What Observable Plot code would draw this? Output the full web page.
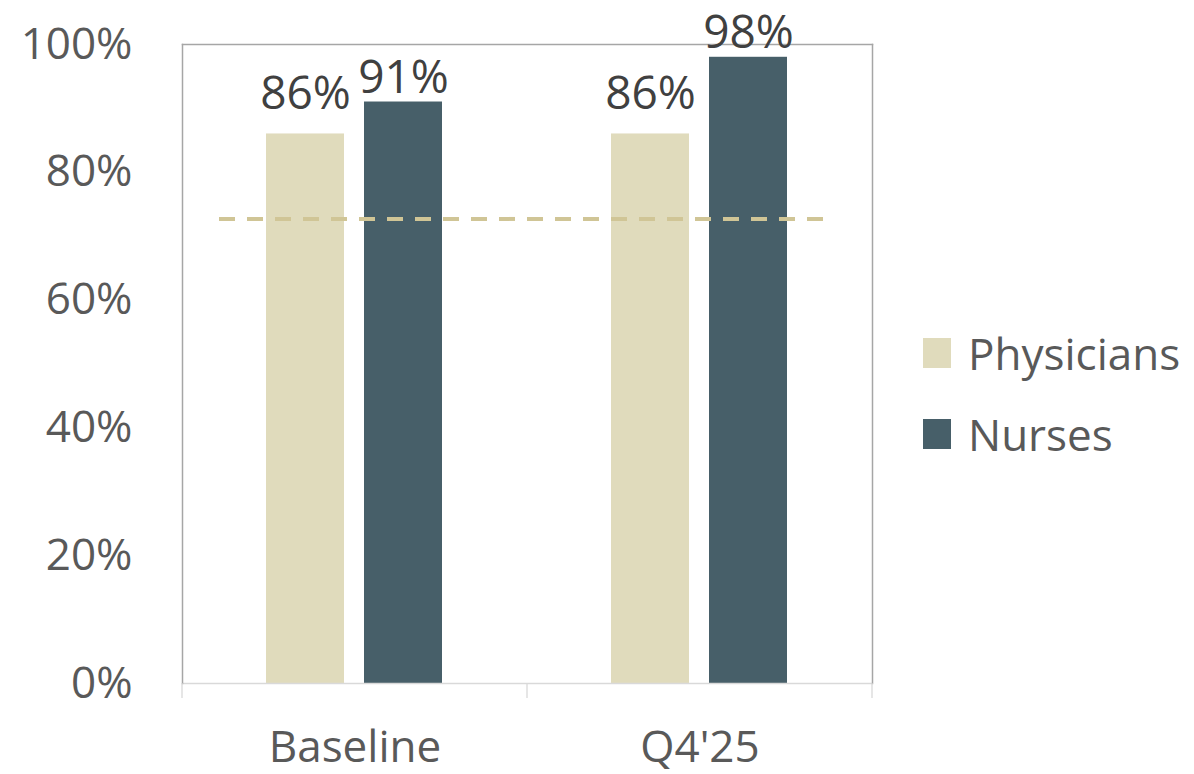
<!DOCTYPE html>
<html>
<head>
<meta charset="utf-8">
<script src="https://cdn.jsdelivr.net/npm/d3@7"></script>
<script src="https://cdn.jsdelivr.net/npm/@observablehq/plot@0.6"></script>
<style>
  html, body { margin: 0; padding: 0; background: #fff; }
  #wrap { position: relative; width: 1194px; height: 774px; overflow: hidden; }
  #wrap svg { display: block; overflow: visible; }
  #legend { position: absolute; left: 923px; top: 333px; font-family: "Open Sans", sans-serif; font-size: 44px; color: #595959; }
  #legend .item { display: flex; align-items: center; height: 40px; margin-bottom: 41px; white-space: nowrap; }
  #legend .sw { width: 28px; height: 30px; margin-right: 17px; flex: none; }
</style>
</head>
<body>
<div id="wrap"><div id="legend"></div></div>
<script>
// ---- data ----
const groups = ["Baseline", "Q4'25"];
const seriesNames = ["Physicians", "Nurses"];
const physicians = [0.86, 0.86];
const nurses = [0.91, 0.98];
const target = 0.727;
const yTicks = [0, 0.2, 0.4, 0.6, 0.8, 1.0];
const colors = ["#e0dbbc", "#475f69"];

const rows = [];
groups.forEach((g, i) => {
  rows.push({group: g, series: "Physicians", value: physicians[i]});
  rows.push({group: g, series: "Nurses", value: nurses[i]});
});
const targetRows = groups.map(g => ({group: g, value: target}));
const pct = d3.format(".0%");

const chart = Plot.plot({
  width: 1194,
  height: 774,
  marginLeft: 182,
  marginRight: 322,
  marginTop: 44,
  marginBottom: 91,
  style: {fontFamily: "Open Sans, sans-serif", fontSize: "44px", color: "#595959", background: "white", overflow: "visible"},
  fx: {domain: groups, padding: 0, label: null, tickSize: 0, tickPadding: 47, axis: "bottom"},
  x: {domain: seriesNames, paddingInner: 0.2, paddingOuter: 0.86, axis: null},
  y: {domain: [0, 1], ticks: yTicks, tickFormat: pct, tickSize: 0, tickPadding: 50, label: null},
  color: {domain: seriesNames, range: colors},
  marks: [
    Plot.barY(rows, {fx: "group", x: "series", y: "value", fill: "series"}),
    Plot.ruleY(targetRows.slice(0, 1), {fx: "group", y: "value", stroke: "#d0c596", strokeWidth: 4, strokeDasharray: "16,12", insetLeft: 37}),
    Plot.ruleY(targetRows.slice(1), {fx: "group", y: "value", stroke: "#d0c596", strokeWidth: 4, strokeDasharray: "16,12", insetRight: 49}),
    Plot.ruleY([0], {stroke: "#d9d9d9", strokeWidth: 1.3}),
    Plot.frame({anchor: "top", facet: "super", stroke: "#a6a6a6", strokeWidth: 1.5}),
    Plot.frame({anchor: "left", facet: "super", stroke: "#a6a6a6", strokeWidth: 1.5}),
    Plot.frame({anchor: "right", facet: "super", stroke: "#a6a6a6", strokeWidth: 1.5}),
    Plot.text(rows.filter(d => d.series === "Physicians"), {fx: "group", x: "series", y: "value", text: d => pct(d.value), fill: "#404040", fontSize: 46, fontFamily: "Open Sans, sans-serif", dy: -40}),
    Plot.text(rows.filter(d => d.series === "Nurses"), {fx: "group", x: "series", y: "value", text: d => pct(d.value), fill: "#404040", fontSize: 46, fontFamily: "Open Sans, sans-serif", dy: -24})
  ]
});

// category boundary ticks below the axis, from the fx scale
const fxS = chart.scale("fx");
const yS = chart.scale("y");
const edges = fxS.domain.map(d => fxS.apply(d));
edges.push(fxS.apply(fxS.domain[fxS.domain.length - 1]) + fxS.bandwidth);
const y0 = yS.apply(0);
const g = d3.select(chart).append("g").attr("stroke", "#d9d9d9").attr("stroke-width", 1.3);
edges.forEach(x => g.append("line").attr("x1", x).attr("x2", x).attr("y1", y0).attr("y2", y0 + 15));

const wrap = document.getElementById("wrap");
wrap.insertBefore(chart, wrap.firstChild);

const legend = d3.select("#legend");
seriesNames.forEach((s, i) => {
  const it = legend.append("div").attr("class", "item");
  it.append("div").attr("class", "sw").style("background", colors[i]);
  it.append("span").text(s);
});
</script>
</body>
</html>
